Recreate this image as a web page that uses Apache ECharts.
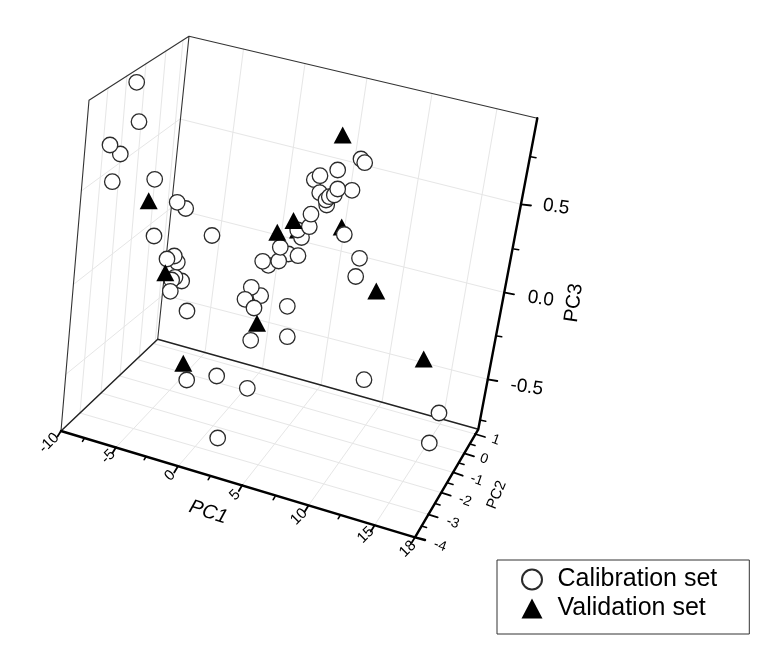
<!DOCTYPE html>
<html>
<head>
<meta charset="utf-8">
<title>PCA score plot</title>
<script src="https://cdn.jsdelivr.net/npm/echarts@6/dist/echarts.min.js"></script>
<style>
	html, body { margin: 0; background: #fff; }
	#chart { width: 774px; height: 656px; }
</style>
</head>
<body>
<div id="chart"></div>
<script>
// the 3D box is only known through its projection, so everything is kept in
// projected plane units (x right, y down) and drawn on two hidden value axes
const calibration = [
	[136.7, 82.3], [139, 121.7], [120.3, 154], [110, 145], [112.3, 181.7], [154.7, 179.3],
	[185.7, 208.5], [177.2, 202.3], [154, 236], [212, 235.5], [177.3, 262.3], [174.3, 256],
	[181.7, 281], [175, 277.3], [171.7, 280], [170.3, 291.3], [167, 259], [187, 311],
	[250.7, 340.3], [287.3, 336.7], [287.3, 306.3], [260.7, 295.7], [251.3, 287.3], [245, 299.3],
	[254, 308], [268.3, 265.3], [262.7, 261.3], [288.3, 254], [278.7, 261], [298, 255.7],
	[280.3, 247.3], [301.5, 237.5], [297.7, 230], [309.3, 226.7], [311, 214.2], [344.3, 234.5],
	[359.5, 258.3], [355.7, 276.5], [361, 159], [364.7, 162.7], [337.7, 170], [314.3, 179.7],
	[320, 175.7], [319.7, 192.7], [352, 190.3], [326.7, 205], [326, 200], [329.3, 196.7],
	[334.3, 195], [337.7, 189], [364, 379.7], [439, 413], [429.3, 443], [186.7, 380],
	[216.7, 376], [247.3, 388.3], [217.7, 438],
]
const validationBehind = [[341.7, 227], [298, 230]]
const validationFront = [
	[342.7, 135], [376.3, 291], [423.7, 359], [293.5, 220.5], [277.3, 232.3],
	[257, 323.3], [165.3, 272.7], [148.7, 200.7], [183.3, 363.3],
]

const pc1Ticks = ['-10', '-5', '0', '5', '10', '15', '18']
const pc1LabelAt = [[49, 443], [108.3, 456.7], [170, 475.7], [235, 495], [299, 516.7], [365.7, 535], [407.7, 549]]
const pc2Ticks = ['1', '0', '-1', '-2', '-3', '-4']
const pc2LabelAt = [[495.7, 440], [484, 459], [476.7, 480], [465, 500.7], [452.7, 522.7], [440, 545.7]]
const pc3Ticks = ['0.5', '0.0', '-0.5']
const pc3LabelAt = [[556, 207], [540.7, 299], [526.7, 387.3]]

// box outline
const thinEdges = [
	[[61, 431], [89, 100.3]], [[89, 100.3], [189, 36.3]], [[189, 36.3], [157.7, 339.3]],
	[[189, 36.3], [537.3, 118.3]],
]
const midEdges = [[[61, 431], [157.7, 339.3]], [[157.7, 339.3], [478.3, 429.3]]]
const axisEdges = [
	[[61, 431], [415, 537.3]], [[415, 537.3], [478.3, 429.3]], [[478.3, 429.3], [537.3, 118.3]],
	[[415, 537.3], [425, 540]],
]

// PC1 grid runs across the floor and up the back wall, PC2 across the floor and
// up the left wall, PC3 around both walls
const gridSegments = [
	[[116, 447.3], [205, 352.6]], [[205, 352.6], [243.5, 49]],
	[[177.7, 466.7], [262.5, 368.7]], [[262.5, 368.7], [305, 63.6]],
	[[242.3, 485], [321, 385]], [[321, 385], [367, 78]],
	[[308.3, 505.7], [382, 402]], [[382, 402], [432, 93.5]],
	[[374.3, 525.7], [443, 419.5]], [[443, 419.5], [497, 108.8]],
	[[428, 514.3], [80, 413]], [[80, 413], [108, 88]],
	[[441.3, 492.7], [101, 393]], [[101, 393], [127, 75]],
	[[454, 472.7], [120, 376]], [[120, 376], [146, 63]],
	[[464.3, 453.3], [139, 360]], [[139, 360], [166, 50]],
	[[475, 434], [155, 344]], [[155, 344], [183, 40]],
	[[521, 204.3], [180, 119]], [[180, 119], [81.7, 190.7]],
	[[505, 292.7], [171, 208]], [[171, 208], [74, 284]],
	[[487.7, 379.3], [163, 295]], [[163, 295], [65, 375]],
]

const majorTicks = [
	[[116, 447.3], [112.5, 453]], [[177.7, 466.7], [174.2, 472.5]], [[242.3, 485], [238.8, 491]],
	[[308.3, 505.7], [304.8, 511.5]], [[374.3, 525.7], [370.8, 531.5]], [[415, 537.3], [411.5, 543]],
	[[61, 431], [57.5, 436.5]],
	[[475, 434], [485, 437]], [[464.3, 453.3], [474, 456.3]], [[454, 472.7], [462.7, 475.7]],
	[[441.3, 492.7], [450.7, 495.7]], [[428, 514.3], [437.7, 517.3]],
	[[521, 204.3], [531, 205.5]], [[505, 292.7], [514, 294.3]], [[487.7, 379.3], [497.3, 381]],
]
const minorTicks = [
	[[84.3, 438.3], [82.5, 441.3]], [[146, 456.7], [144.2, 459.7]], [[210, 476.7], [208.2, 479.7]],
	[[275, 496.7], [273.2, 499.7]], [[340, 515.7], [338.2, 518.7]],
	[[470, 444], [475, 445.5]], [[459, 463], [464, 464.5]], [[448, 483], [453, 484.5]],
	[[435, 503.5], [440, 505]], [[421.5, 526], [426.5, 527.5]],
	[[530.7, 156.7], [536, 157.7]], [[514, 249], [518.7, 249.7]], [[497, 336], [501.7, 336.8]],
	[[481, 420.3], [485.7, 421.3]],
]

function segmentData(segments) {
	const out = []
	segments.forEach((s) => out.push(s[0], s[1], ['-', '-']))
	return out
}

function lineSeries(segments, color, width, z) {
	return {
		type: 'line',
		data: segmentData(segments),
		symbol: 'none',
		silent: true,
		z: z,
		lineStyle: { color: color, width: width, cap: 'round' },
	}
}

function labelSeries(texts, positions, size, rotate, style) {
	return {
		type: 'scatter',
		data: positions.map((p, i) => ({ value: p, name: texts[i] })),
		symbolSize: 1,
		silent: true,
		z: 5,
		itemStyle: { color: 'transparent', opacity: 1 },
		label: Object.assign({
			show: true,
			position: 'inside',
			align: 'center',
			verticalAlign: 'middle',
			formatter: '{b}',
			color: '#000',
			fontFamily: 'Liberation Sans',
			fontSize: size,
			rotate: rotate,
		}, style || {}),
	}
}

const circleStyle = { color: '#fff', borderColor: '#2b2b2b', borderWidth: 1.3, opacity: 1 }
const triangleStyle = { color: '#000', opacity: 1 }

const chart = echarts.init(document.getElementById('chart'))

chart.setOption({
	animation: false,
	backgroundColor: '#fff',
	grid: { left: 0, right: 0, top: 0, bottom: 0 },
	xAxis: { type: 'value', min: 0, max: 774, show: false },
	yAxis: { type: 'value', min: 0, max: 656, inverse: true, show: false },
	legend: {
		left: 497,
		top: 560,
		orient: 'vertical',
		padding: [7, 32, 13, 24],
		itemWidth: 21,
		itemHeight: 20,
		itemGap: 4,
		borderColor: '#333',
		borderWidth: 1,
		backgroundColor: '#fff',
		selectedMode: false,
		textStyle: { fontFamily: 'Liberation Sans', fontSize: 25, color: '#000', padding: [0, 0, 0, 10] },
		data: [
			{ name: 'Calibration set', icon: 'circle' },
			{ name: 'Validation set', icon: 'triangle' },
		],
	},
	series: [
		lineSeries(gridSegments, '#e6e6e6', 1, 1),
		lineSeries(thinEdges, '#333', 1.1, 2),
		lineSeries(midEdges, '#222', 1.5, 2),
		lineSeries(axisEdges, '#000', 2.4, 2),
		lineSeries(majorTicks, '#000', 1.8, 2),
		lineSeries(minorTicks, '#000', 1.6, 2),
		{
			name: 'Validation set',
			type: 'scatter',
			data: validationBehind,
			symbol: 'triangle',
			symbolSize: [18, 17],
			itemStyle: triangleStyle,
			z: 3,
		},
		{
			name: 'Calibration set',
			type: 'scatter',
			data: calibration,
			symbol: 'circle',
			symbolSize: 15.5,
			itemStyle: circleStyle,
			z: 4,
		},
		{
			name: 'Validation set',
			type: 'scatter',
			data: validationFront,
			symbol: 'triangle',
			symbolSize: [18, 17],
			itemStyle: triangleStyle,
			z: 4.5,
		},
		labelSeries(pc1Ticks, pc1LabelAt, 15, 45),
		labelSeries(pc2Ticks, pc2LabelAt, 14, -20),
		labelSeries(pc3Ticks, pc3LabelAt, 19, -8),
		labelSeries(['PC1'], [[208.3, 512.3]], 20, -18, { fontStyle: 'italic' }),
		labelSeries(['PC2'], [[496.7, 495]], 15, 68),
		labelSeries(['PC3'], [[574, 303]], 20, 82),
	],
})
</script>
</body>
</html>
